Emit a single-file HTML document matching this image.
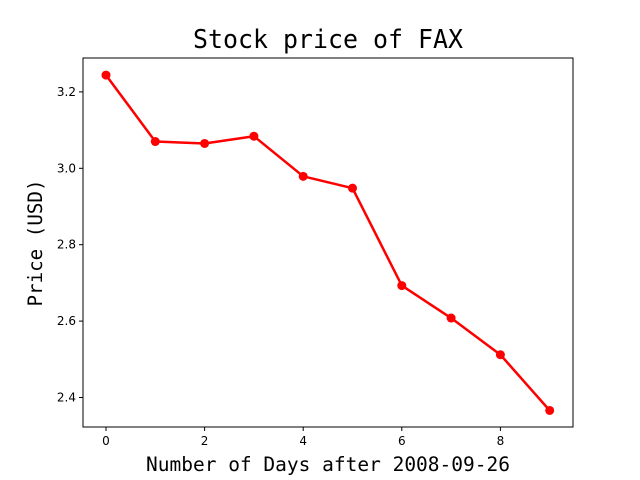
<!DOCTYPE html>
<html><head><meta charset="utf-8"><style>
html,body{margin:0;padding:0;background:#fff;}
svg{display:block;}
</style></head><body>
<svg id="chart" width="640" height="480" xmlns="http://www.w3.org/2000/svg">
<rect x="0" y="0" width="640" height="480" fill="#fff"/>
<text x="328" y="48" text-anchor="middle" font-family="DejaVu Sans Mono, Liberation Mono, monospace" font-size="26" textLength="270" lengthAdjust="spacingAndGlyphs">Stock price of FAX</text>
<text x="328" y="471" text-anchor="middle" font-family="DejaVu Sans Mono, Liberation Mono, monospace" font-size="19.5" textLength="364" lengthAdjust="spacingAndGlyphs">Number of Days after 2008-09-26</text>
<text transform="translate(42,243) rotate(-90)" text-anchor="middle" font-family="DejaVu Sans Mono, Liberation Mono, monospace" font-size="19.5" textLength="127" lengthAdjust="spacingAndGlyphs">Price (USD)</text>
<g id="axes"></g>
</svg>
<script>
const days = [0,1,2,3,4,5,6,7,8,9];
const prices = [3.244,3.070,3.065,3.084,2.979,2.948,2.693,2.608,2.512,2.366];
const xTicks = [0,2,4,6,8];
const yTicks = [2.4,2.6,2.8,3.0,3.2];
const yTickLabels = ['2.4','2.6','2.8','3.0','3.2'];
const L=83,R=573,T=58,B=427;
function xs(v){return 106+49.3*v;}
function ys(v){return 397.5-(v-2.4)*382;}
const NS='http://www.w3.org/2000/svg';
const g=document.getElementById('axes');
function mk(t,a){const e=document.createElementNS(NS,t);for(const k in a)e.setAttribute(k,a[k]);g.appendChild(e);return e;}
xTicks.forEach(v=>{
  const l=mk('line',{x1:xs(v),x2:xs(v),y1:B,y2:B+4,stroke:'#000','stroke-width':1});
  
  
  const t=mk('text',{x:xs(v),y:B+18,'text-anchor':'middle','font-family':'DejaVu Sans, Liberation Sans, sans-serif','font-size':12});
  t.textContent=String(v);
  
  
});
yTicks.forEach((v,i)=>{
  const l=mk('line',{x1:L-4,x2:L,y1:ys(v),y2:ys(v),stroke:'#000','stroke-width':1});
  
  
  const t=mk('text',{x:L-7,y:ys(v)+4,'text-anchor':'end','font-family':'DejaVu Sans, Liberation Sans, sans-serif','font-size':12});
  t.textContent=yTickLabels[i];
  
  
});
const pts=days.map((d,i)=>xs(d)+','+ys(prices[i])).join(' ');
const line=mk('polyline',{points:pts,fill:'none',stroke:'#f00','stroke-width':2.5,'stroke-linejoin':'round'});


days.forEach((d,i)=>{
  const c=mk('circle',{cx:xs(d),cy:ys(prices[i]),r:4.5,fill:'#f00'});
  
  
});
const f=mk('rect',{x:L,y:T,width:R-L,height:B-T,fill:'none',stroke:'#000','stroke-width':1});


</script>
</body></html>
